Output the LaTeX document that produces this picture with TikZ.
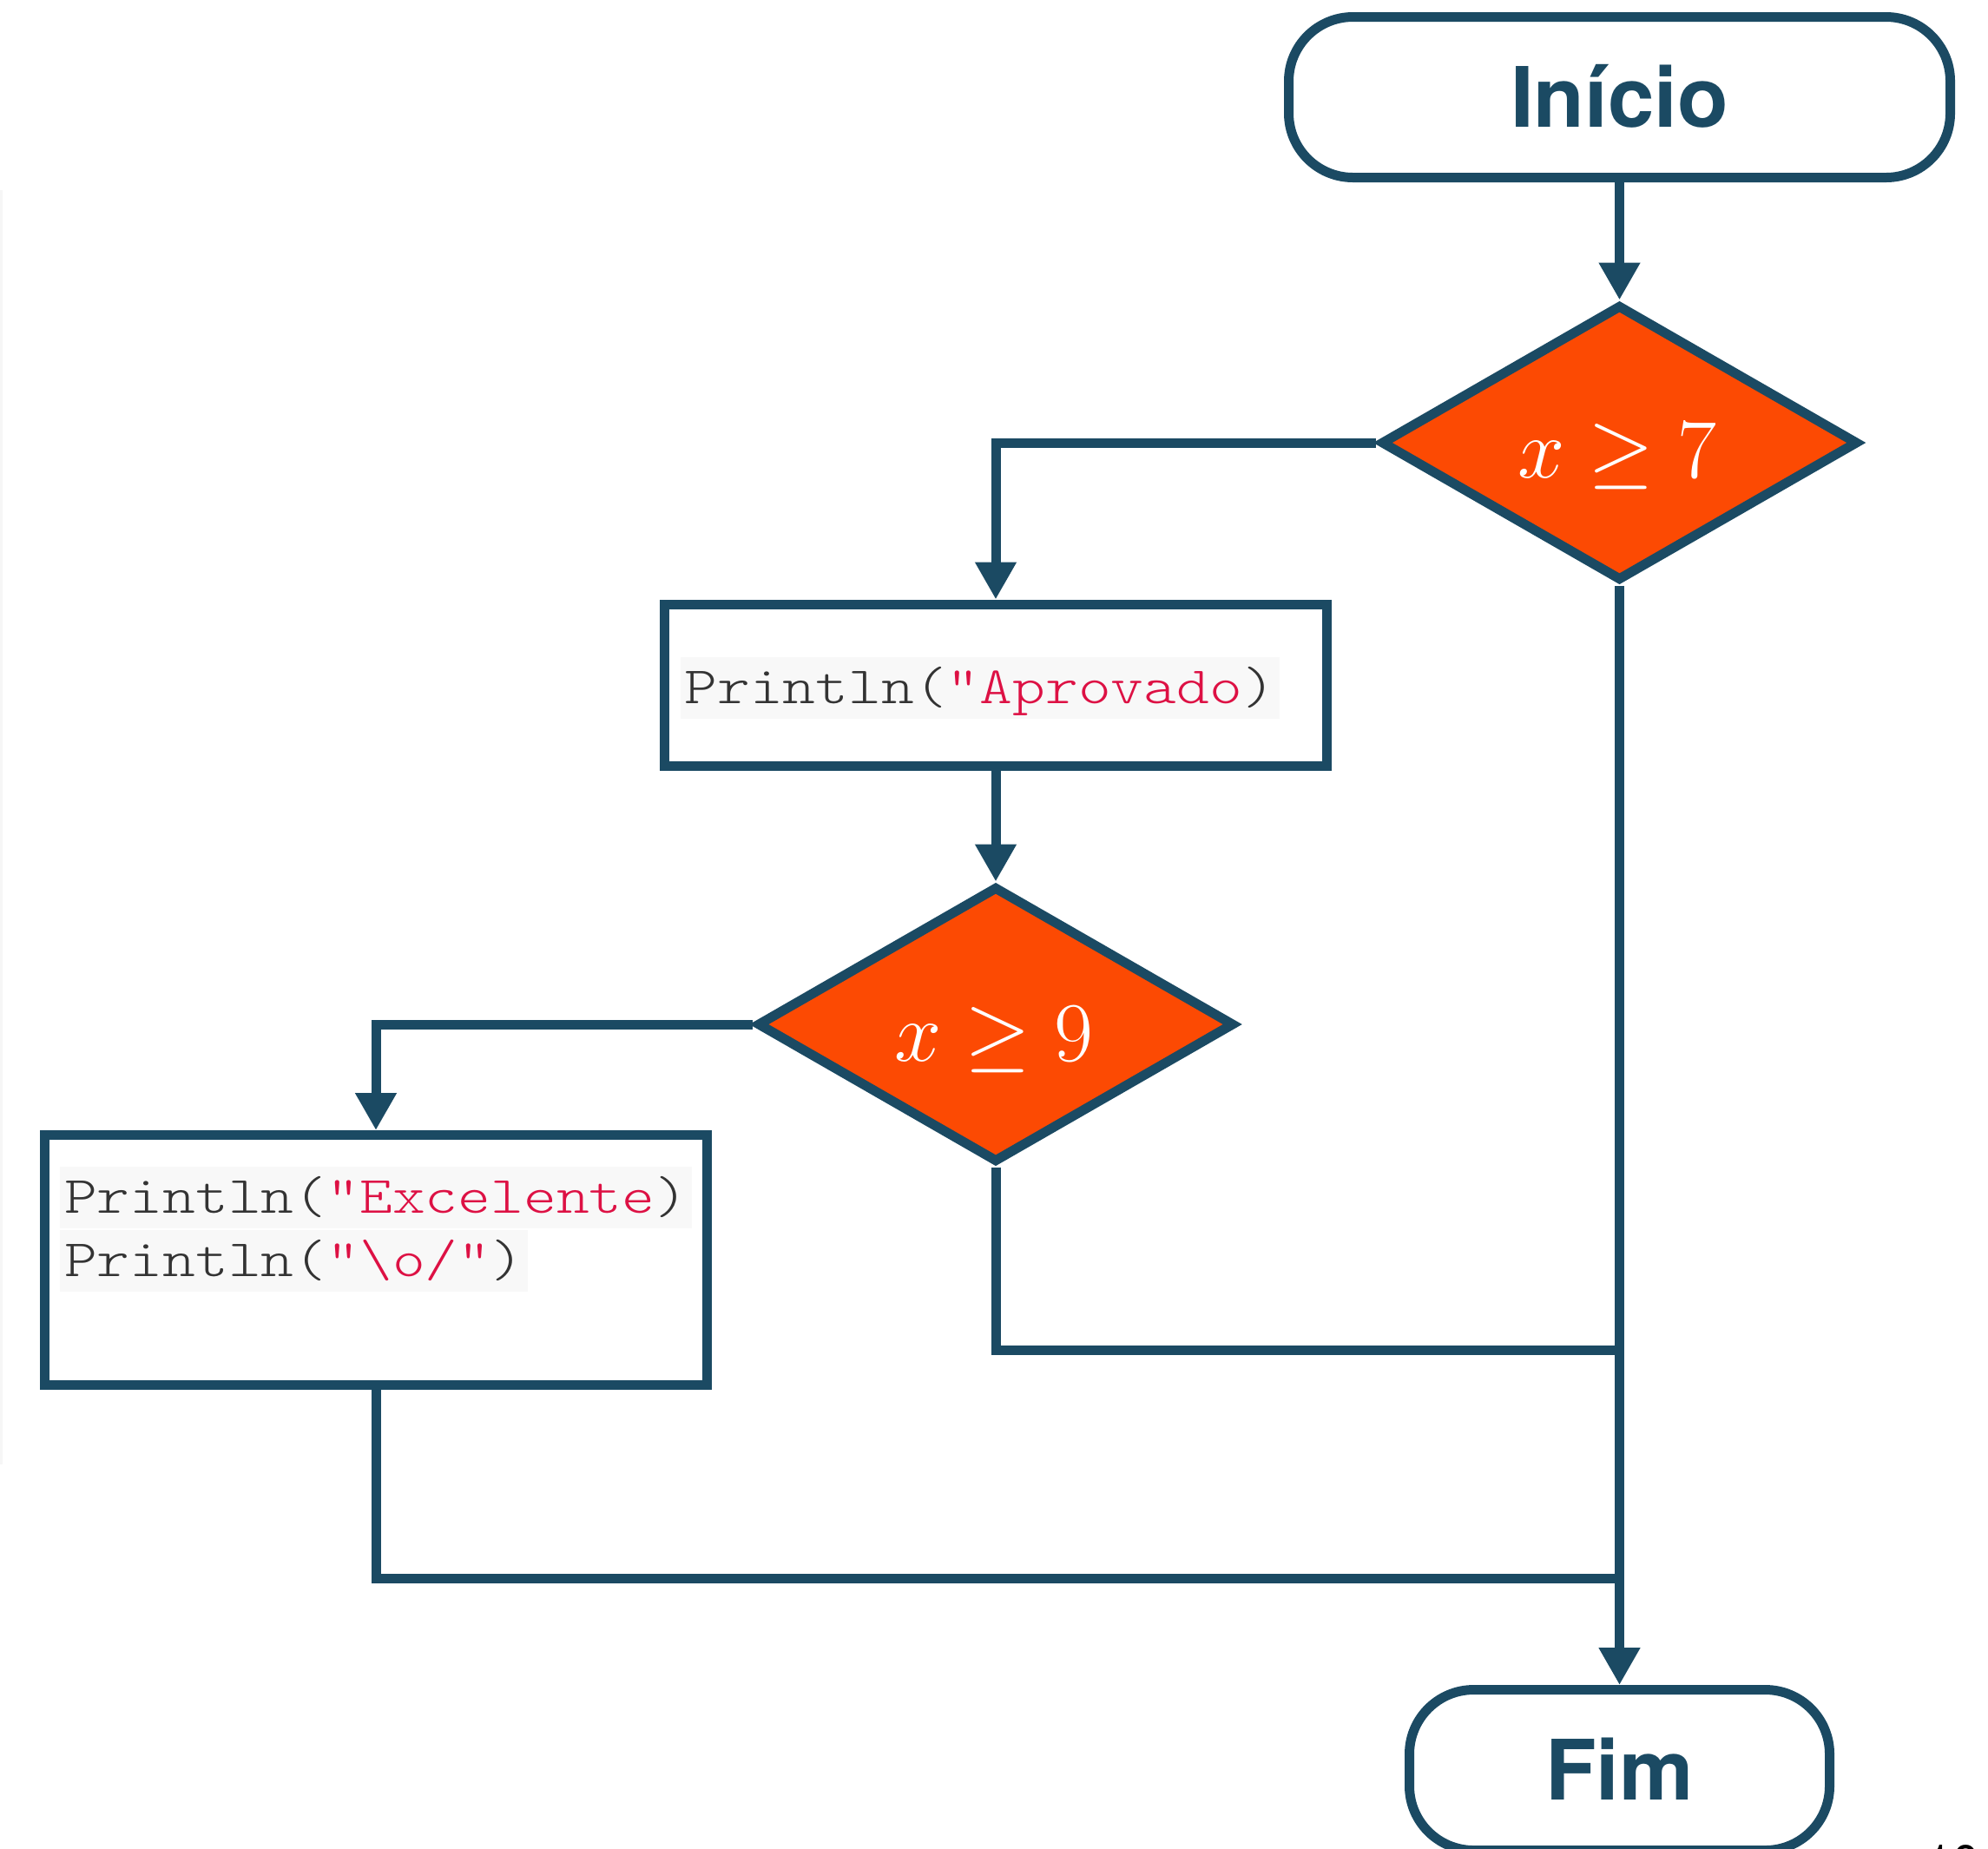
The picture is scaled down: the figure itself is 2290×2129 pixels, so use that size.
\RequirePackage{fix-cm}
\documentclass[tikz,border=0pt]{standalone}
\usepackage{fontspec}
\usepackage{graphicx}
\usetikzlibrary{shapes.geometric,arrows.meta}
\newfontfamily\headfont{TeX Gyre Heros}

\definecolor{navy}{HTML}{1B4A63}
\definecolor{flowred}{HTML}{FC4A03}
\definecolor{codebg}{HTML}{F8F8F8}
\definecolor{codetxt}{HTML}{333333}
\definecolor{codestr}{HTML}{DD1144}
\definecolor{stripgray}{HTML}{F6F6F6}

% monospaced code, light typewriter face widened to Courier proportions
\newcommand{\codetext}[1]{\scalebox{1.19}[1]{\fontfamily{lmtt}\fontseries{l}\selectfont\fontsize{24.2pt}{29pt}\selectfont #1}}
\newcommand{\str}[1]{\textcolor{codestr}{#1}}

\tikzset{
  flowline/.style={draw=navy, line width=4.4pt},
  terminal/.style={flowline, fill=white, rounded corners=29.6pt,
    minimum width=304.8pt, minimum height=74pt, inner sep=0pt,
    text=navy, font=\headfont\bfseries\fontsize{38.4pt}{44pt}\selectfont,
    text height=27.6pt, text depth=0pt},
  process/.style={flowline, fill=white, minimum width=305pt, inner sep=0pt},
  decision/.style={flowline, fill=flowred, shape=diamond, aspect=1.7,
    minimum width=220pt, minimum height=127.2pt, inner sep=0pt},
  condtext/.style={text=white, inner sep=0pt, anchor=base,
    font=\fontsize{39pt}{46pt}\selectfont},
  codeline/.style={fill=codebg, text=codetxt, inner xsep=2pt, inner ysep=0pt,
    text height=21.2pt, text depth=7.2pt, anchor=base west},
  conn/.style={navy, line width=4.4pt},
  tip/.style={-{Triangle[length=17.2pt,width=18pt]}},
}

\begin{document}
\begin{tikzpicture}[x=0.4pt, y=-0.4pt]
  \useasboundingbox (0,0) rectangle (2290,2129);

  % faint strip along the left edge
  \fill[stripgray] (0,219) rectangle (3,1687);

  % nodes of the flow
  \node[terminal] (start) at (1865.5,112) {Início};
  \node[decision] (d1) at (1865.5,510) {};
  \node[condtext] (c1) at (1863,550) {$x \geq 7$};

  \node[process, minimum height=74.4pt] (box1) at (1147,789) {};
  \node[codeline] (code1) at (783,810)
    {\codetext{Println(\str{"Aprovado})}};

  \node[decision] (d2) at (1147,1180) {};
  \node[condtext] (c2) at (1145,1222) {$x \geq 9$};

  \node[process, minimum height=115.2pt] (box2) at (433,1451.5) {};
  \node[codeline] (code2) at (68.6,1397)
    {\codetext{Println(\str{"Excelente})}};
  \node[codeline] (code3) at (68.6,1470)
    {\codetext{Println(\str{"\textbackslash o/"})}};

  \node[terminal, minimum width=193.6pt] (fim) at (1865.5,2039) {Fim};

  % junction points on the main vertical line
  \coordinate (j1) at (1865.5,1555);
  \coordinate (j2) at (1865.5,1818);

  % connectors
  \draw[conn, tip] (start.south) -- (d1.north);
  \draw[conn, tip] (d1.west) -| (box1.north);
  \draw[conn, tip] (box1.south) -- (d2.north);
  \draw[conn, tip] (d2.west) -| (box2.north);
  \draw[conn] (d2.south) |- (j1);
  \draw[conn] (box2.south) |- (j2);
  \draw[conn, tip] (d1.south) -- (fim.north);

  % page number at the lower edge
  \node[anchor=base west, inner sep=0pt, text=black,
    font=\headfont\fontsize{22pt}{26pt}\selectfont] (pg) at (2218,2164) {10};
\end{tikzpicture}
\end{document}
